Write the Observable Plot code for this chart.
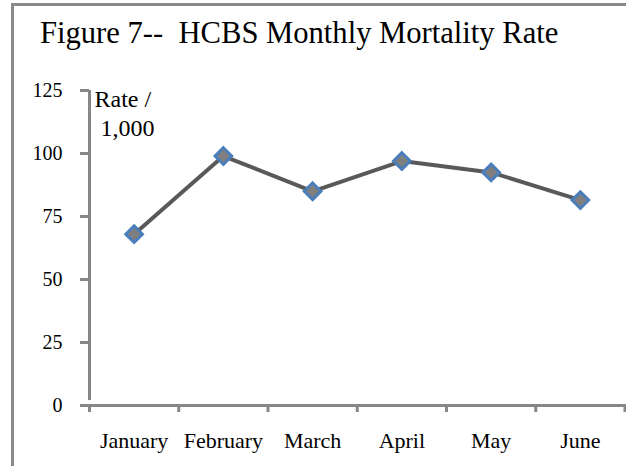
<!DOCTYPE html>
<html><head><meta charset="utf-8">
<script src="https://cdn.jsdelivr.net/npm/d3@7"></script>
<script src="https://cdn.jsdelivr.net/npm/@observablehq/plot@0.6"></script>
<style>
body{margin:0;background:#fff}
#wrap{position:relative;width:626px;height:466px;overflow:hidden;font-family:"Liberation Serif",serif;background:#fff}
#frame{position:absolute;left:11px;top:3px;width:660px;height:500px;border-top:3px solid #8a8a8a;border-left:3px solid #8a8a8a}
#title{position:absolute;left:40px;top:15px;font-size:30.6px;white-space:pre;color:#000;line-height:1.2}
#chart{position:absolute;left:0;top:60px}
</style></head><body>
<div id="wrap"><div id="frame"></div><div id="title">Figure 7--  HCBS Monthly Mortality Rate</div><div id="chart"></div></div>
<script>
const months = ["January", "February", "March", "April", "May", "June"];
const rates = [68, 99, 85, 97, 92.5, 81.5];
const yTicks = [0, 25, 50, 75, 100, 125];
const yLabelLines = ["Rate /", "1,000"];

const data = months.map((m, i) => ({month: m, pos: i + 0.5, rate: rates[i]}));
const boundaries = d3.range(months.length + 1);
const axisColor = "#878787";
const font = "Liberation Serif, serif";

const plot = Plot.plot({
  width: 626, height: 406,
  marginTop: 30, marginBottom: 61, marginLeft: 89, marginRight: 1.5,
  style: {fontFamily: font, background: "transparent", overflow: "visible"},
  x: {domain: [0, months.length]},
  y: {domain: [0, 125]},
  marks: [
    Plot.axisY({ticks: yTicks, tickSize: 9, tickPadding: 18, stroke: axisColor, strokeWidth: 3, fill: "#000", fontSize: 20, label: null}),
    Plot.axisX({ticks: boundaries, tickSize: 7, tickFormat: () => "", stroke: axisColor, strokeWidth: 3, label: null}),
    Plot.ruleX([0], {y1: 0, y2: 125, stroke: axisColor, strokeWidth: 3, insetTop: -5}),
    Plot.ruleY([0], {stroke: axisColor, strokeWidth: 3, insetRight: -2}),
    Plot.text(data, {x: "pos", y: () => 0, text: "month", dy: 35, fontSize: 22, fill: "#000"}),
    Plot.line(data, {x: "pos", y: "rate", stroke: "#595959", strokeWidth: 4}),
    Plot.dot(data, {x: "pos", y: "rate", symbol: "diamond2", r: 7.5, fill: "#7f7f7f", stroke: "#4a7ebb", strokeWidth: 3}),
    Plot.text([yLabelLines[0]], {frameAnchor: "top-left", textAnchor: "start", dx: 5, dy: -1, fontSize: 24, fill: "#000"}),
    Plot.text([yLabelLines[1]], {frameAnchor: "top-left", textAnchor: "start", dx: 11, dy: 28, fontSize: 24, fill: "#000"})
  ]
});
document.getElementById("chart").appendChild(plot);
</script>
</body></html>
